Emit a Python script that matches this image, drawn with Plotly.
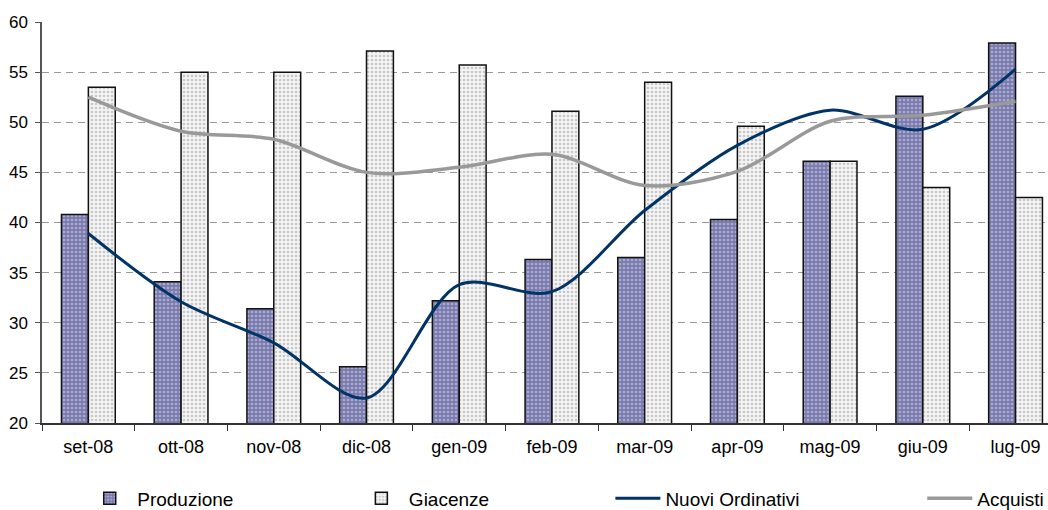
import plotly.graph_objects as go

# Monthly survey indices, Sep 2008 - Jul 2009
months = ["set-08", "ott-08", "nov-08", "dic-08", "gen-09", "feb-09",
          "mar-09", "apr-09", "mag-09", "giu-09", "lug-09"]
produzione = [40.8, 34.1, 31.4, 25.6, 32.2, 36.3, 36.5, 40.3, 46.1, 52.6, 57.9]
giacenze = [53.5, 55.0, 55.0, 57.1, 55.7, 51.1, 54.0, 49.6, 46.1, 43.5, 42.5]
nuovi_ordinativi = [38.9, 32.1, 28.0, 22.5, 33.8, 33.1, 41.2, 47.7, 51.2, 49.3, 55.3]
acquisti = [52.5, 49.1, 48.3, 45.0, 45.5, 46.8, 43.7, 45.1, 50.1, 50.7, 52.1]

FONT = "Liberation Sans, Arial, sans-serif"

fig = go.Figure()

fig.add_trace(go.Bar(
    x=months, y=produzione, name="Produzione", legend="legend", showlegend=True,
    marker=dict(color="#7a7aae",
                line=dict(color="#111111", width=1.5),
                pattern=dict(shape=".", fgcolor="#dcdcf0", bgcolor="#7a7aae",
                             size=4, solidity=0.35)),
))
fig.add_trace(go.Bar(
    x=months, y=giacenze, name="Giacenze", legend="legend2", showlegend=True,
    marker=dict(color="#f0f0f0",
                line=dict(color="#111111", width=1.5),
                pattern=dict(shape=".", fgcolor="#9a9a9a", bgcolor="#f4f4f4",
                             size=4, solidity=0.35)),
))
fig.add_trace(go.Scatter(
    x=months, y=nuovi_ordinativi, name="Nuovi Ordinativi", legend="legend3", showlegend=True,
    mode="lines", line=dict(color="#003366", width=3, shape="spline", smoothing=0.9),
))
fig.add_trace(go.Scatter(
    x=months, y=acquisti, name="Acquisti", legend="legend4", showlegend=True,
    mode="lines", line=dict(color="#999999", width=3.5, shape="spline", smoothing=0.9),
))

legend_common = dict(orientation="h", yanchor="middle", y=-0.188, xanchor="left",
                     font=dict(family=FONT, size=19, color="#000000"),
                     bgcolor="rgba(0,0,0,0)", itemwidth=45, visible=True,
                     tracegroupgap=0)

fig.update_layout(
    width=1048, height=510,
    showlegend=True,
    margin=dict(l=42, r=0, t=22, b=87, autoexpand=False),
    paper_bgcolor="white", plot_bgcolor="white",
    barmode="group", bargap=0.42, bargroupgap=0,
    font=dict(family=FONT, size=17, color="#000000"),
    legend=dict(legend_common, x=0.04),
    legend2=dict(legend_common, x=0.31),
    legend3=dict(legend_common, x=0.565),
    legend4=dict(legend_common, x=0.875),
    xaxis=dict(range=[-0.5, 10.35], showline=True, linecolor="#333333", linewidth=1.5,
               ticks="outside", tickson="boundaries", ticklen=6, tickcolor="#333333",
               tickfont=dict(family=FONT, size=18), ticklabelstandoff=7,
               showgrid=False, zeroline=False),
    yaxis=dict(range=[20, 60], dtick=5, showline=True, linecolor="#555555", linewidth=1.5,
               ticks="outside", ticklen=5, tickcolor="#555555",
               tickfont=dict(family=FONT, size=17), ticklabelstandoff=4,
               showgrid=True, gridcolor="#999999", gridwidth=1, griddash="7px,5px",
               zeroline=False),
)

fig.write_html("out.html")
